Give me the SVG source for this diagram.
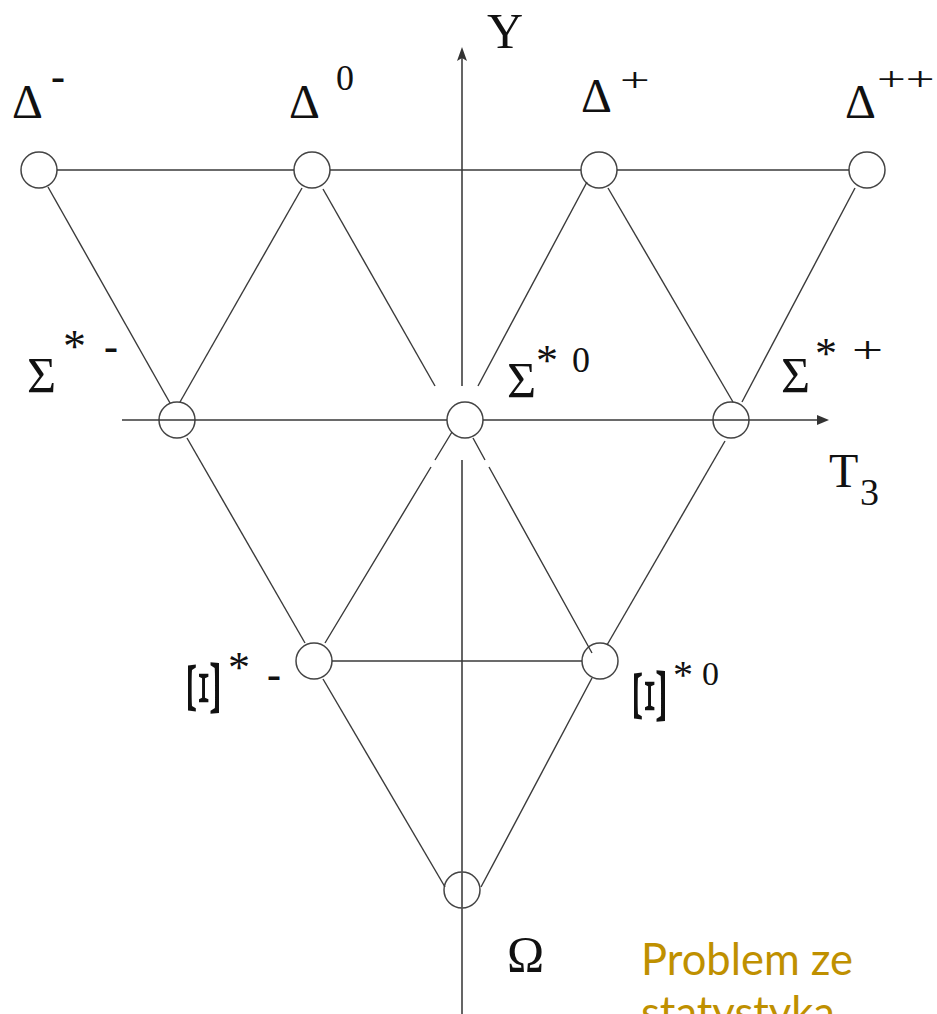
<svg xmlns="http://www.w3.org/2000/svg" width="937" height="1014" viewBox="0 0 937 1014">
<style>
.edge{stroke:#3a3a3a;stroke-width:1.4;fill:none;stroke-linecap:butt}
.axis{stroke:#555;stroke-width:1.8;fill:none}
.node{fill:#fff;stroke:#444;stroke-width:1.5}
.lbl{font-family:"Liberation Serif","Times New Roman",serif;fill:#111}
.gold{font-family:Lato,"Open Sans",sans-serif;fill:#BF9000;font-size:43.5px}
</style>
<rect width="937" height="1014" fill="#fff"/>
<g id="delta-minus">
  <circle class="node" cx="39" cy="170" r="18"/>
  <text class="lbl" x="12" y="118" font-size="48">Δ</text>
  <text class="lbl" x="51" y="90" font-size="42" font-weight="bold">-</text>
</g>
<g id="delta-0">
  <circle class="node" cx="312" cy="170" r="18"/>
  <text class="lbl" x="289" y="118" font-size="48">Δ</text>
  <text class="lbl" x="336" y="90" font-size="36">0</text>
</g>
<g id="delta-plus">
  <circle class="node" cx="599" cy="170" r="18"/>
  <text class="lbl" x="581" y="112" font-size="48">Δ</text>
  <text class="lbl" transform="translate(620,91) scale(1.55,1)" font-size="34">+</text>
</g>
<g id="delta-plusplus">
  <circle class="node" cx="867" cy="170" r="18"/>
  <text class="lbl" x="845" y="118" font-size="48">Δ</text>
  <text class="lbl" transform="translate(877,90) scale(1.5,1)" font-size="34">++</text>
</g>
<g id="sigma-minus">
  <circle class="node" cx="177" cy="420" r="18"/>
  <text class="lbl" x="27" y="392" font-size="50">Σ</text>
  <text class="lbl" x="63" y="362" font-size="46">*</text>
  <text class="lbl" x="104" y="360" font-size="42" font-weight="bold">-</text>
</g>
<g id="sigma-0">
  <circle class="node" cx="465" cy="420" r="18"/>
  <text class="lbl" x="507" y="397" font-size="50">Σ</text>
  <text class="lbl" x="536" y="375" font-size="44">*</text>
  <text class="lbl" x="572" y="372" font-size="36">0</text>
</g>
<g id="sigma-plus">
  <circle class="node" cx="731" cy="420" r="18"/>
  <text class="lbl" x="781" y="392" font-size="50">Σ</text>
  <text class="lbl" x="815" y="368" font-size="44">*</text>
  <text class="lbl" transform="translate(852,363) scale(1.45,1)" font-size="38">+</text>
</g>
<g id="xi-minus">
  <circle class="node" cx="314" cy="661" r="18"/>
  <text class="lbl" transform="translate(204,688) rotate(-90) scale(2.1,1)" x="0" y="15.2" font-size="46" text-anchor="middle">Ξ</text>
  <text class="lbl" x="228" y="682" font-size="44">*</text>
  <text class="lbl" x="267" y="688" font-size="42" font-weight="bold">-</text>
</g>
<g id="xi-0">
  <circle class="node" cx="600" cy="661" r="18"/>
  <text class="lbl" transform="translate(650,696) rotate(-90) scale(2.1,1)" x="0" y="15.2" font-size="46" text-anchor="middle">Ξ</text>
  <text class="lbl" x="673" y="688" font-size="40">*</text>
  <text class="lbl" x="702" y="685" font-size="34">0</text>
</g>
<g id="omega">
  <circle class="node" cx="462" cy="890" r="18"/>
  <text class="lbl" x="507" y="971" font-size="50">Ω</text>
</g>
<g id="axes">
  <path class="axis" d="M462 58 V386 M462 460 V1014"/>
  <path d="M462 47 L457 61 L462 58 L467 61 Z" fill="#333"/>
  <path class="edge" d="M122 420 H447 M483 420 H818"/>
  <path d="M829 420 L817 415 L817 425 Z" fill="#333"/>
  <text class="lbl" x="487" y="48" font-size="50">Y</text>
  <text class="lbl" x="829" y="487" font-size="48">T</text>
  <text class="lbl" x="860" y="505" font-size="38">3</text>
</g>
<g id="connectors">
  <path class="edge" d="M57 170 H294"/>
  <path class="edge" d="M330 170 H581" stroke="#7a7070"/>
  <path class="edge" d="M617 170 H849"/>
  <path class="edge" d="M48 187 L170 403"/>
  <path class="edge" d="M302 188 L180 402"/>
  <path class="edge" d="M323 189 L435 386"/>
  <path class="edge" d="M587 182 L478 386"/>
  <path class="edge" d="M608 188 L733 402"/>
  <path class="edge" d="M855 188 L742 402"/>
  <path class="edge" d="M187 438 L305 643"/>
  <path class="edge" d="M452 432 L435 460 M431 467 L325 643"/>
  <path class="edge" d="M473 438 L485 460 M489 467 L592 653"/>
  <path class="edge" d="M725 441 L607 645"/>
  <path class="edge" d="M332 661 H582"/>
  <path class="edge" d="M323 679 L445 887"/>
  <path class="edge" d="M592 678 L481 887"/>
</g>
<g id="note">
  <text class="gold" x="641" y="975">Problem ze</text>
  <text class="gold" x="641" y="1028">statystyka</text>
</g>
</svg>
